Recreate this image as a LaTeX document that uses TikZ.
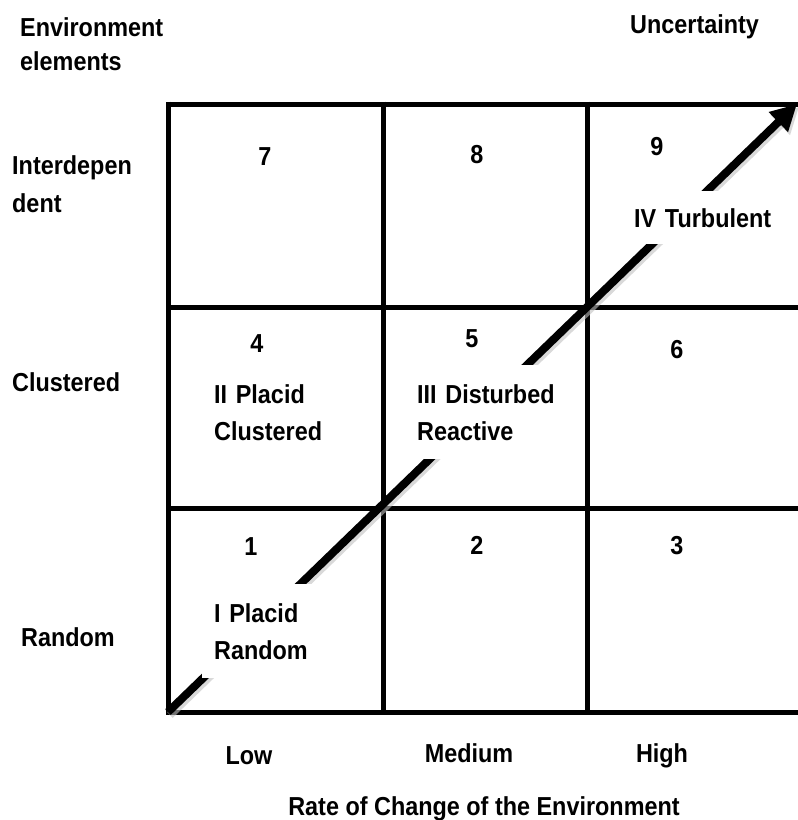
\documentclass[tikz,border=0pt]{standalone}
\usepackage{fontspec}
\setmainfont{Liberation Sans}[FakeStretch=0.9]
\usepackage{tikz}
\usetikzlibrary{arrows.meta,calc}

\begin{document}
\begin{tikzpicture}[x=1pt,y=-1pt,
  lbl/.style={font=\bfseries\fontsize{26}{37}\selectfont, inner sep=0pt, anchor=base west},
  num/.style={font=\bfseries\fontsize{26}{37}\selectfont, inner sep=0pt, anchor=base},
  cellbox/.style={font=\bfseries\fontsize{26}{37}\selectfont, fill=white, anchor=base west,
    align=left, text width=#1, inner xsep=12pt, inner ysep=19pt},
  gridline/.style={line width=5pt},
  trend/.style={line width=8pt, -{Triangle[length=26pt,width=26pt]}}]
\useasboundingbox (0,0) rectangle (798,820);

% to draw the 3x3 grid
\draw [gridline] (168,104) -- (798,104);
\draw [gridline] (168,307) -- (798,307);
\draw [gridline] (168,508) -- (798,508);
\draw [gridline] (165.5,712) -- (798,712);
\draw [gridline] (168,101.5) -- (168,714.5);
\draw [gridline] (383,101.5) -- (383,714.5);
\draw [gridline] (587,101.5) -- (587,714.5);

% to draw the diagonal arrow (with its shadow)
\coordinate (origin) at (168,712);
\coordinate (peak) at (797,104);
\draw [trend, black!25, opacity=0.6] ($(origin)+(2,3)$) -- ($(peak)+(2,3)$);
\draw [trend] (origin) -- (peak);

% to write axis titles
\node [lbl] (env) at (20,36) {Environment};
\node [lbl] (elem) at (20,70) {elements};
\node [lbl] (unc) at (630,33) {Uncertainty};
\node [lbl] (interdep) at (12,174) {Interdepen};
\node [lbl] (dent) at (12,212) {dent};
\node [lbl] (clustered) at (12,391) {Clustered};
\node [lbl] (random) at (21,646) {Random};
\node [num] (low) at (249,764) {Low};
\node [num] (medium) at (469,762) {Medium};
\node [num] (high) at (662,762) {High};
\node [num] (rate) at (484,815) {Rate of Change of the Environment};

% to number the cells
\node [num] (n7) at (265,165) {7};
\node [num] (n8) at (477,163) {8};
\node [num] (n9) at (657,155) {9};
\node [num] (n4) at (257,352) {4};
\node [num] (n5) at (472,347) {5};
\node [num] (n6) at (677,358) {6};
\node [num] (n1) at (251,555) {1};
\node [num] (n2) at (477,554) {2};
\node [num] (n3) at (677,554) {3};

% to write environment types
\node [cellbox=150pt] (placidrandom) at (202,622) {I Placid\\Random};
\node [cellbox=150pt] (placidclustered) at (202,403) {II Placid\\Clustered};
\node [cellbox=155pt] (disturbed) at (405,403) {III Disturbed\\Reactive};
\node [cellbox=150pt, inner ysep=17pt] (turbulent) at (622,227) {IV Turbulent};
\end{tikzpicture}
\end{document}
